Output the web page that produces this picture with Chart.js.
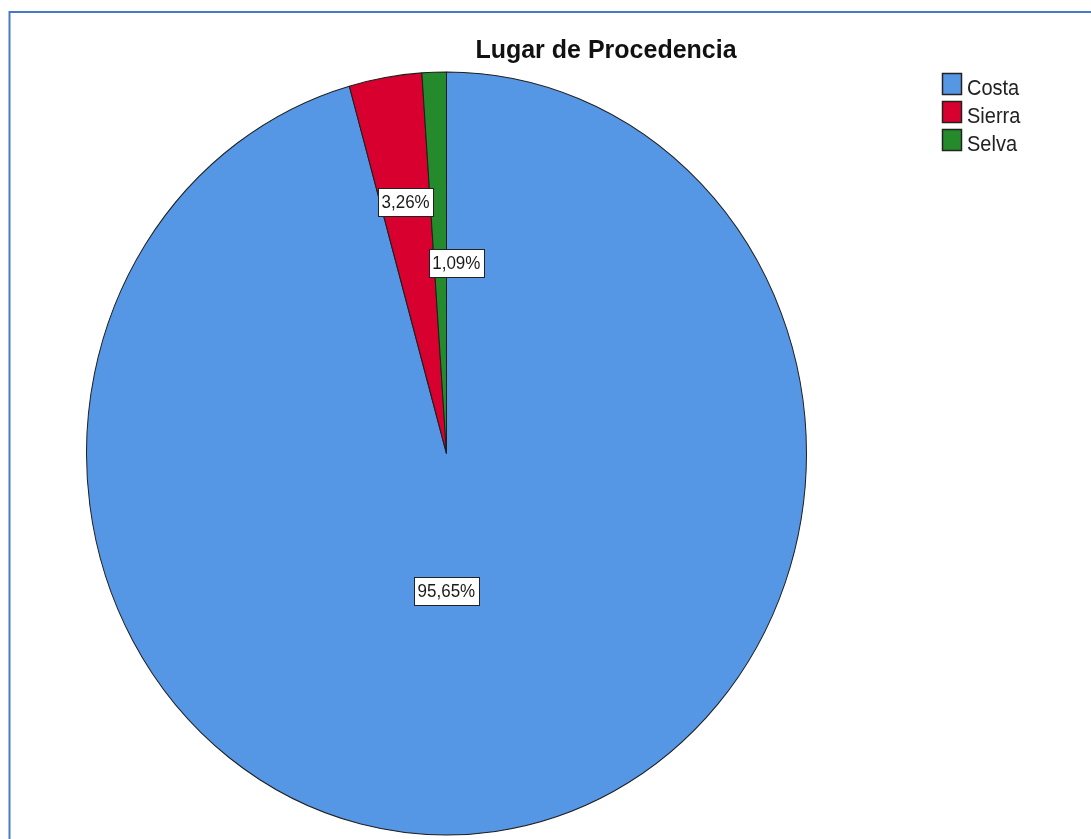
<!DOCTYPE html>
<html>
  <head>
    <script src="https://cdn.jsdelivr.net/npm/chart.js@4.4.0/dist/chart.umd.min.js"></script>
    <style>
      html, body { margin: 0; padding: 0; background: #fff; overflow: hidden; }
    </style>
  </head>

  <body>
    <canvas id="canvas" width="1091" height="839" style="width: 1091px; height: 839px"></canvas>
    <script>
      const chartTitle = 'Lugar de Procedencia';
      const categories = ['Costa', 'Sierra', 'Selva'];
      const percentages = [95.65, 3.26, 1.09];
      const colors = ['#5596e5', '#d7002f', '#248a2b'];

      // the SPSS picture is a little taller than wide, so everything is stretched in y
      const stretchY = 381.5 / 360;
      // where the value boxes sit: fraction of the radius along the slice middle, plus a nudge in x
      const labelRadius = [0.365, 0.668, 0.5];
      const labelShiftX = [-18, 0, 16];

      const fmt = (v) => v.toFixed(2).replace('.', ',') + '%';

      function stretchedText(ctx, text, x, y) {
        ctx.save();
        ctx.translate(x, y);
        ctx.scale(1, stretchY);
        ctx.fillText(text, 0, 0);
        ctx.restore();
      }

      const spssLook = {
        id: 'spssLook',
        beforeDraw(chart) {
          const ctx = chart.ctx;
          ctx.save();
          ctx.fillStyle = '#fff';
          ctx.fillRect(0, 0, chart.width, chart.height);
          // frame of the output viewer
          ctx.strokeStyle = '#4a78c8';
          ctx.lineWidth = 2;
          ctx.beginPath();
          ctx.moveTo(9.5, chart.height);
          ctx.lineTo(9.5, 12);
          ctx.lineTo(chart.width, 12);
          ctx.stroke();
          ctx.restore();
        },
        beforeDatasetsDraw(chart) {
          const arc = chart.getDatasetMeta(0).data[0];
          const ctx = chart.ctx;
          ctx.save();
          ctx.translate(arc.x, arc.y);
          ctx.scale(1, stretchY);
          ctx.translate(-arc.x, -arc.y);
        },
        afterDatasetsDraw(chart) {
          const ctx = chart.ctx;
          ctx.restore();

          // value boxes
          ctx.save();
          ctx.font = '17px "Liberation Sans", Arial, sans-serif';
          ctx.textAlign = 'center';
          ctx.textBaseline = 'middle';
          chart.getDatasetMeta(0).data.forEach((arc, i) => {
            const mid = (arc.startAngle + arc.endAngle) / 2;
            const r = arc.outerRadius * labelRadius[i];
            const x = arc.x + Math.cos(mid) * r + labelShiftX[i];
            const y = arc.y + Math.sin(mid) * r * stretchY;
            const text = fmt(percentages[i]);
            const w = ctx.measureText(text).width + 7;
            const h = 28;
            ctx.fillStyle = '#fff';
            ctx.fillRect(Math.round(x - w / 2) + 0.5, Math.round(y - h / 2) + 0.5, Math.round(w), h);
            ctx.strokeStyle = '#222';
            ctx.lineWidth = 1;
            ctx.strokeRect(Math.round(x - w / 2) + 0.5, Math.round(y - h / 2) + 0.5, Math.round(w), h);
            ctx.fillStyle = '#1a1a1a';
            stretchedText(ctx, text, x, y + 1);
          });
          ctx.restore();

          // title
          ctx.save();
          ctx.font = 'bold 25px "Liberation Sans", Arial, sans-serif';
          ctx.textAlign = 'center';
          ctx.textBaseline = 'alphabetic';
          ctx.fillStyle = '#111';
          stretchedText(ctx, chartTitle, 606, 57.5);
          ctx.restore();

          // legend
          ctx.save();
          ctx.font = '20px "Liberation Sans", Arial, sans-serif';
          ctx.textAlign = 'left';
          ctx.textBaseline = 'alphabetic';
          categories.forEach((name, i) => {
            const top = 73.5 + i * 28;
            ctx.fillStyle = colors[i];
            ctx.fillRect(942.5, top, 19, 21);
            ctx.strokeStyle = '#222';
            ctx.lineWidth = 1.5;
            ctx.strokeRect(942.5, top, 19, 21);
            ctx.fillStyle = '#222';
            stretchedText(ctx, name, 967, top + 21);
          });
          ctx.restore();
        },
      };

      new Chart(document.getElementById('canvas').getContext('2d'), {
        type: 'pie',
        data: {
          labels: categories,
          datasets: [
            {
              data: percentages,
              backgroundColor: colors,
              borderColor: '#1e1e1e',
              borderWidth: 1,
              hoverOffset: 0,
            },
          ],
        },
        options: {
          responsive: false,
          animation: false,
          events: [],
          radius: 360,
          layout: {
            padding: { left: 0, right: 198, top: 68, bottom: 0 },
          },
          plugins: {
            legend: { display: false },
            title: { display: false },
            tooltip: { enabled: false },
          },
        },
        plugins: [spssLook],
      });
    </script>
  </body>
</html>
